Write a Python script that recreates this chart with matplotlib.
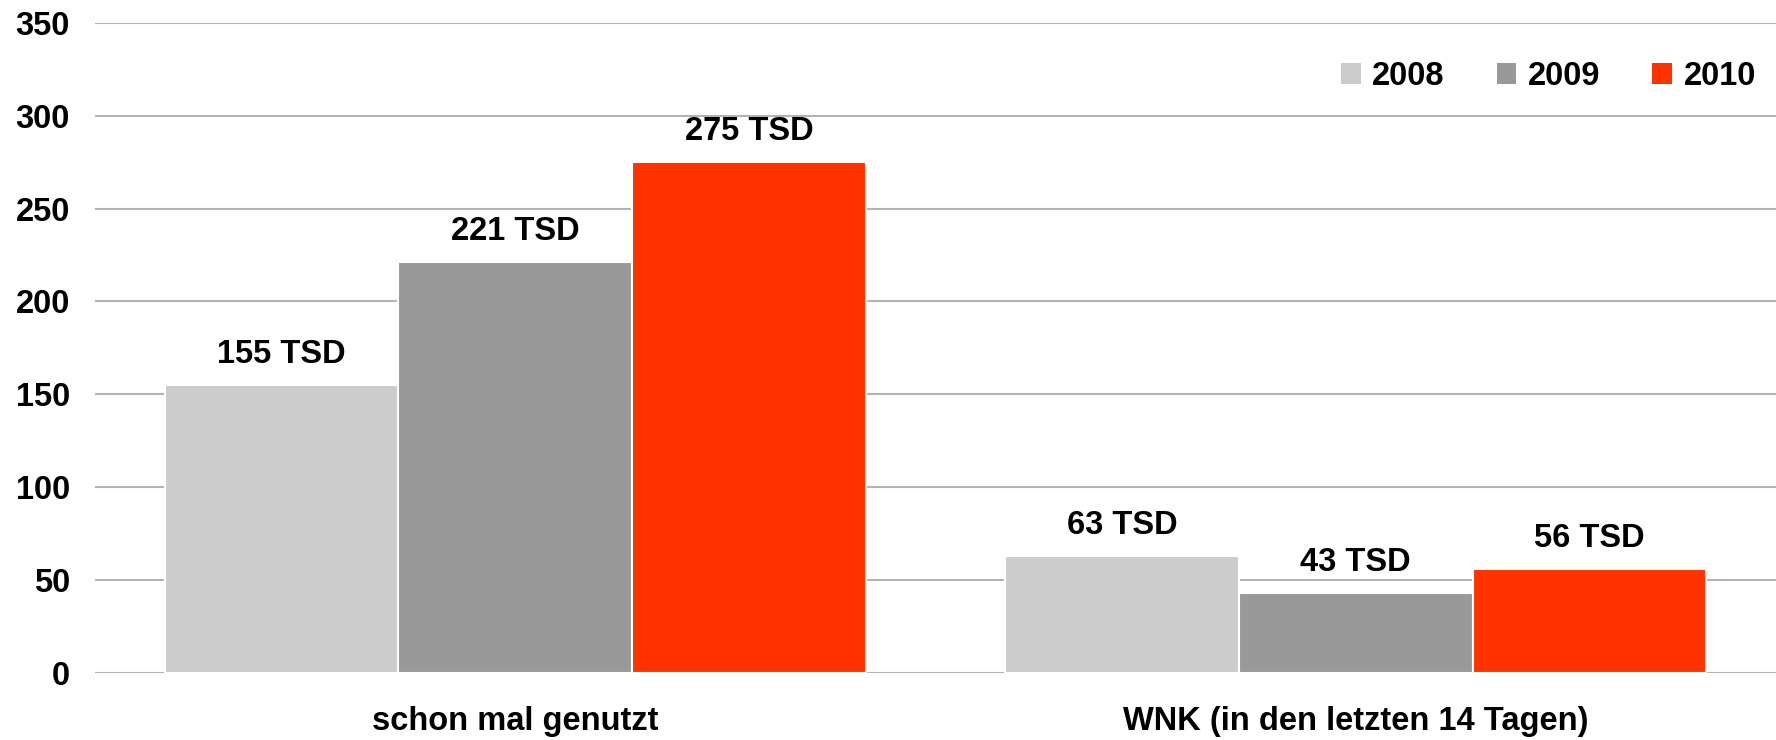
import matplotlib.pyplot as plt
import numpy as np

categories = ['schon mal genutzt', 'WNK (in den letzten 14 Tagen)']
years = ['2008', '2009', '2010']
values_2008 = [155, 63]
values_2009 = [221, 43]
values_2010 = [275, 56]
labels_2008 = ['155 TSD', '63 TSD']
labels_2009 = ['221 TSD', '43 TSD']
labels_2010 = ['275 TSD', '56 TSD']

colors = ['#cccccc', '#999999', '#ff3300']

plt.rcParams['font.family'] = ['Liberation Sans', 'DejaVu Sans']
plt.rcParams['font.weight'] = 'bold'
fs = 23.5

fig = plt.figure(figsize=(17.76, 7.4), dpi=100)
ax = fig.add_axes([0.0535, 0.0909, 0.9465, 0.878])

x = np.arange(len(categories))
width = 0.278
series = [values_2008, values_2009, values_2010]
labels = [labels_2008, labels_2009, labels_2010]

for i, (vals, labs) in enumerate(zip(series, labels)):
    pos = x + (i - 1) * width
    bars = ax.bar(pos, vals, width=width, color=colors[i], edgecolor='white',
                  linewidth=1.5, label=years[i], zorder=3)
    for b, lab in zip(bars, labs):
        ax.annotate(lab, (b.get_x() + b.get_width() / 2, b.get_height()),
                    xytext=(0, 11), textcoords='offset points',
                    ha='center', va='bottom', fontsize=fs, fontweight='bold')

ax.set_xlim(-0.5, 1.5)
ax.set_ylim(0, 350)
ax.set_yticks(range(0, 351, 50))
ax.set_xticks(x)
ax.set_xticklabels(categories, fontsize=fs, fontweight='bold')
ax.tick_params(axis='y', length=0, pad=18, labelsize=fs)
ax.tick_params(axis='x', length=0, pad=24)
ax.yaxis.grid(True, color='#b3b3b3', linewidth=1.5, zorder=0)
ax.set_axisbelow(True)
for s in ax.spines.values():
    s.set_visible(False)

leg = ax.legend(loc='center right', bbox_to_anchor=(0.988, 0.918), ncol=3,
                frameon=False, fontsize=fs, handlelength=0.6, handleheight=0.6,
                handletextpad=0.35, columnspacing=1.6, borderaxespad=0,
                borderpad=0)
for h in leg.legend_handles:
    h.set_edgecolor('none')

fig.savefig('out.png', dpi=100)
